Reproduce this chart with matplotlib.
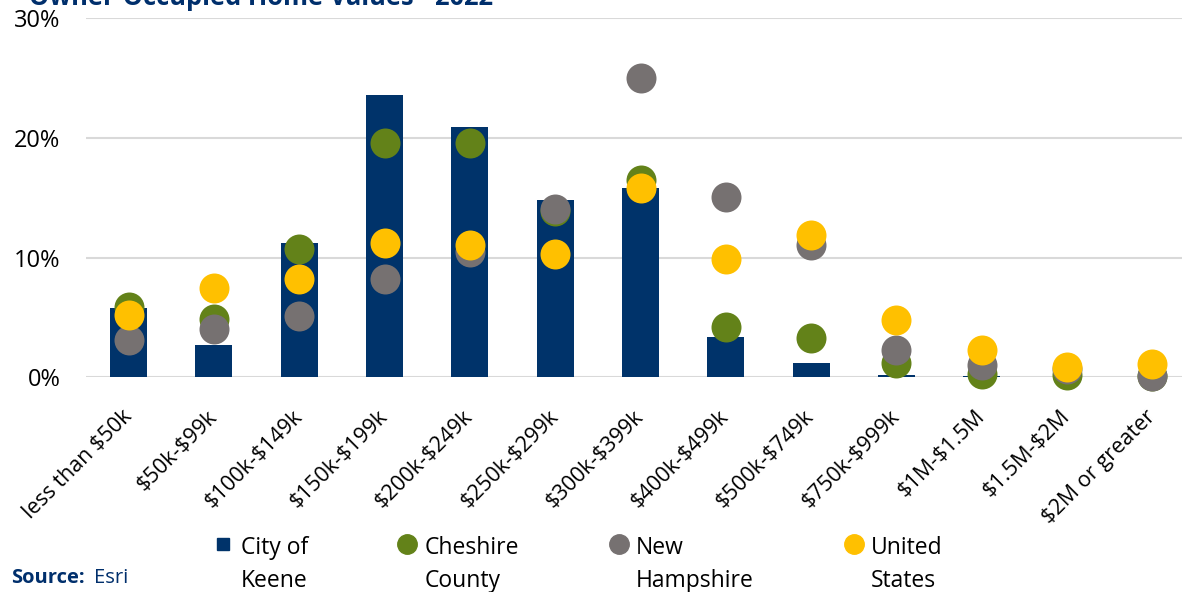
import matplotlib
matplotlib.use("Agg")
import matplotlib.pyplot as plt
from matplotlib.lines import Line2D
from matplotlib.ticker import FuncFormatter

plt.rcParams["font.family"] = ["Open Sans", "DejaVu Sans"]

# Data (percent of owner-occupied units)
cats = ["less than $50k", "$50k-$99k", "$100k-$149k", "$150k-$199k", "$200k-$249k",
        "$250k-$299k", "$300k-$399k", "$400k-$499k", "$500k-$749k", "$750k-$999k",
        "$1M-$1.5M", "$1.5M-$2M", "$2M or greater"]
keene = [5.8, 2.7, 11.2, 23.6, 20.9, 14.8, 15.8, 3.4, 1.2, 0.2, 0.1, 0.0, 0.0]
cheshire = [5.9, 4.9, 10.7, 19.6, 19.6, 13.9, 16.5, 4.2, 3.3, 1.2, 0.3, 0.2, 0.1]
nh = [3.1, 4.0, 5.1, 8.2, 10.5, 14.1, 25.0, 15.1, 11.1, 2.3, 1.0, 0.7, 0.1]
us = [5.2, 7.5, 8.2, 11.2, 11.1, 10.3, 15.8, 9.9, 11.9, 4.8, 2.3, 0.9, 1.1]
series_names = ["City of\nKeene", "Cheshire\nCounty", "New\nHampshire", "United\nStates"]

NAVY = "#00336A"
GREEN = "#638219"
GRAY = "#767171"
GOLD = "#FFC000"
TITLE_C = "#002F6C"

W, H = 1182, 592
fig = plt.figure(figsize=(W / 100, H / 100), dpi=100)
# plot area in pixels: x 86..1195 (runs past the right edge), y 18.4..377.3
ax = fig.add_axes([86 / W, 1 - 377.3 / H, (1195 - 86) / W, (377.3 - 18.4) / H])

x = list(range(len(cats)))
ax.bar(x, keene, width=0.434, color=NAVY, zorder=2)
ms = 466
ax.scatter(x, cheshire, s=ms, color=GREEN, zorder=3, linewidths=0, clip_on=False)
ax.scatter(x, nh, s=ms, color=GRAY, zorder=4, linewidths=0, clip_on=False)
ax.scatter(x, us, s=ms, color=GOLD, zorder=5, linewidths=0, clip_on=False)

ax.set_ylim(0, 30)
ax.set_xlim(-0.5, 12.5)
ax.set_yticks([0, 10, 20, 30])
ax.yaxis.set_major_formatter(FuncFormatter(lambda v, p: "%d%%" % v))
ax.grid(axis="y", color="#D9D9D9", lw=1.5, zorder=0)
ax.set_axisbelow(True)
for s in ax.spines.values():
    s.set_visible(False)
ax.tick_params(axis="both", length=0, colors="black")
ax.tick_params(axis="y", pad=18.5, labelsize=17)
ax.set_xticks(x)
ax.set_xticklabels([c.replace("$", r"\$") for c in cats], rotation=45, ha="right",
                   va="center", rotation_mode="anchor", fontsize=15.6)
ax.tick_params(axis="x", pad=26)

fig.text(29 / W, 1 - 5 / H, "Owner-Occupied Home Values - 2022", fontsize=18.4,
         fontweight="bold", color=TITLE_C, va="baseline")

handles = [
    Line2D([], [], marker="s", ls="", color=NAVY, markersize=9),
    Line2D([], [], marker="o", ls="", color=GREEN, markersize=14),
    Line2D([], [], marker="o", ls="", color=GRAY, markersize=14),
    Line2D([], [], marker="o", ls="", color=GOLD, markersize=14),
]
leg = fig.legend(handles, series_names, loc="upper left", bbox_to_anchor=(213 / W, 1 - 536 / H),
                 ncol=4, frameon=False, fontsize=16.5, handlelength=0.9, handletextpad=0.3,
                 columnspacing=3.9, borderpad=0, borderaxespad=0)
for t in leg.get_texts():
    t.set_linespacing(1.5)
# put the legend marks level with the first line of each label, as in the original
for col in leg._legend_handle_box.get_children():
    for item in col.get_children():
        item.align = "top"

fig.text(11 / W, 1 - 578 / H, "Source:", fontsize=14.5, fontweight="bold", color=TITLE_C, va="center")
fig.text(94 / W, 1 - 578 / H, "Esri", fontsize=14.5, color=TITLE_C, va="center")

fig.savefig("out.png", dpi=100)
